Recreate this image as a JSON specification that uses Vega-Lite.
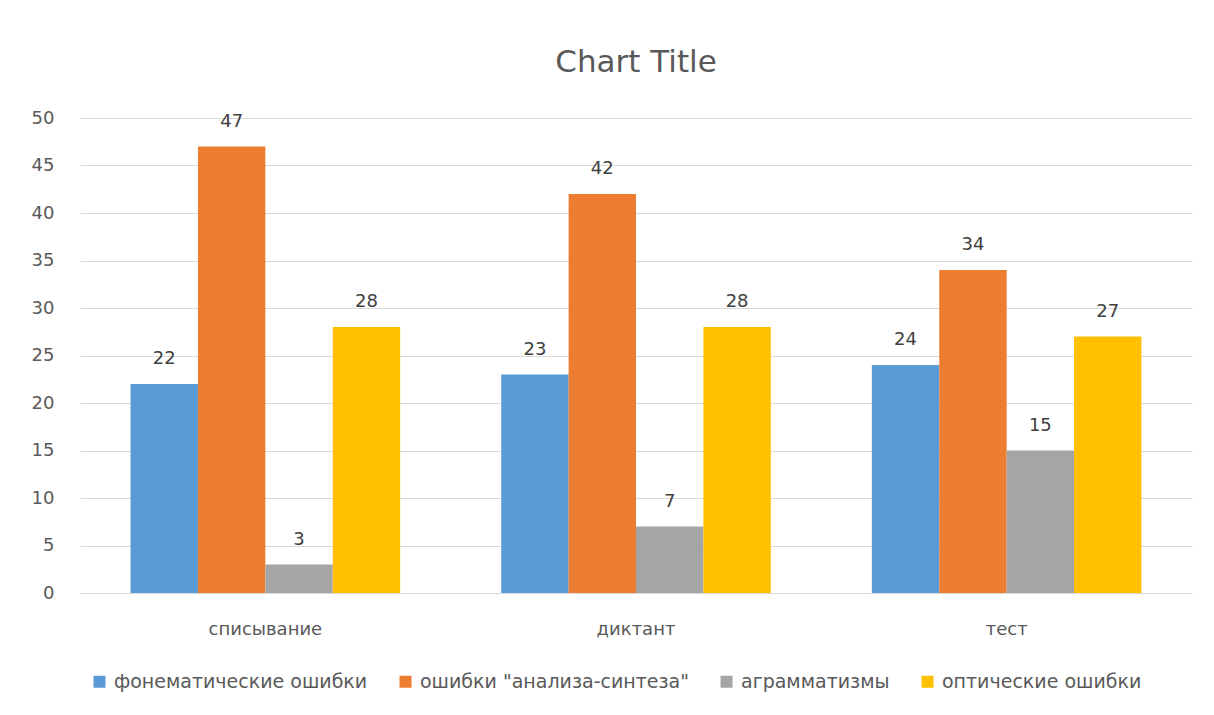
{
  "$schema": "https://vega.github.io/schema/vega-lite/v6.json",
  "autosize": {"type": "none"},
  "width": 1112,
  "height": 475,
  "padding": {"left": 80, "top": 118, "right": 22, "bottom": 122},
  "background": "white",
  "title": {
    "text": "Chart Title",
    "anchor": "middle",
    "frame": "group",
    "fontSize": 31,
    "font": "DejaVu Sans",
    "fontWeight": "normal",
    "color": "#595959",
    "offset": 30
  },
  "data": {
    "values": [
      {"task": "списывание", "type": "фонематические ошибки", "count": 22},
      {"task": "списывание", "type": "ошибки \"анализа-синтеза\"", "count": 47},
      {"task": "списывание", "type": "аграмматизмы", "count": 3},
      {"task": "списывание", "type": "оптические ошибки", "count": 28},
      {"task": "диктант", "type": "фонематические ошибки", "count": 23},
      {"task": "диктант", "type": "ошибки \"анализа-синтеза\"", "count": 42},
      {"task": "диктант", "type": "аграмматизмы", "count": 7},
      {"task": "диктант", "type": "оптические ошибки", "count": 28},
      {"task": "тест", "type": "фонематические ошибки", "count": 24},
      {"task": "тест", "type": "ошибки \"анализа-синтеза\"", "count": 34},
      {"task": "тест", "type": "аграмматизмы", "count": 15},
      {"task": "тест", "type": "оптические ошибки", "count": 27}
    ]
  },
  "encoding": {
    "x": {
      "field": "task",
      "type": "nominal",
      "sort": ["списывание", "диктант", "тест"],
      "scale": {"paddingInner": 0.2727, "paddingOuter": 0.1364},
      "axis": {
        "title": null,
        "labelAngle": 0,
        "ticks": false,
        "domainColor": "#d9d9d9",
        "domainWidth": 1,
        "labelPadding": 27,
        "labelFontSize": 18,
        "labelFont": "DejaVu Sans",
        "labelColor": "#595959"
      }
    },
    "xOffset": {
      "field": "type",
      "type": "nominal",
      "sort": ["фонематические ошибки", "ошибки \"анализа-синтеза\"", "аграмматизмы", "оптические ошибки"]
    },
    "y": {
      "field": "count",
      "type": "quantitative",
      "scale": {"domain": [0, 50], "nice": false},
      "axis": {
        "title": null,
        "values": [0, 5, 10, 15, 20, 25, 30, 35, 40, 45, 50],
        "ticks": false,
        "domain": false,
        "gridColor": "#d9d9d9",
        "gridWidth": 1,
        "labelPadding": 26,
        "labelFontSize": 18,
        "labelFont": "DejaVu Sans",
        "labelColor": "#595959"
      }
    }
  },
  "layer": [
    {
      "mark": {"type": "bar"},
      "encoding": {
        "color": {
          "field": "type",
          "type": "nominal",
          "scale": {
            "domain": ["фонематические ошибки", "ошибки \"анализа-синтеза\"", "аграмматизмы", "оптические ошибки"],
            "range": ["#5B9BD5", "#ED7D31", "#A5A5A5", "#FFC000"]
          },
          "legend": {
            "title": null,
            "orient": "none",
            "legendX": 10,
            "legendY": 554,
            "direction": "horizontal",
            "symbolType": "square",
            "symbolSize": 144,
            "symbolStrokeWidth": 0,
            "symbolOpacity": 1,
            "labelFontSize": 19,
            "labelFont": "DejaVu Sans",
            "labelColor": "#595959",
            "labelOffset": 5,
            "columnPadding": 28,
            "labelLimit": 400
          }
        }
      }
    },
    {
      "mark": {
        "type": "text",
        "baseline": "alphabetic",
        "dy": -20,
        "fontSize": 18,
        "font": "DejaVu Sans",
        "color": "#404040"
      },
      "encoding": {
        "text": {"field": "count", "type": "quantitative"}
      }
    }
  ],
  "config": {
    "view": {"stroke": null}
  }
}
